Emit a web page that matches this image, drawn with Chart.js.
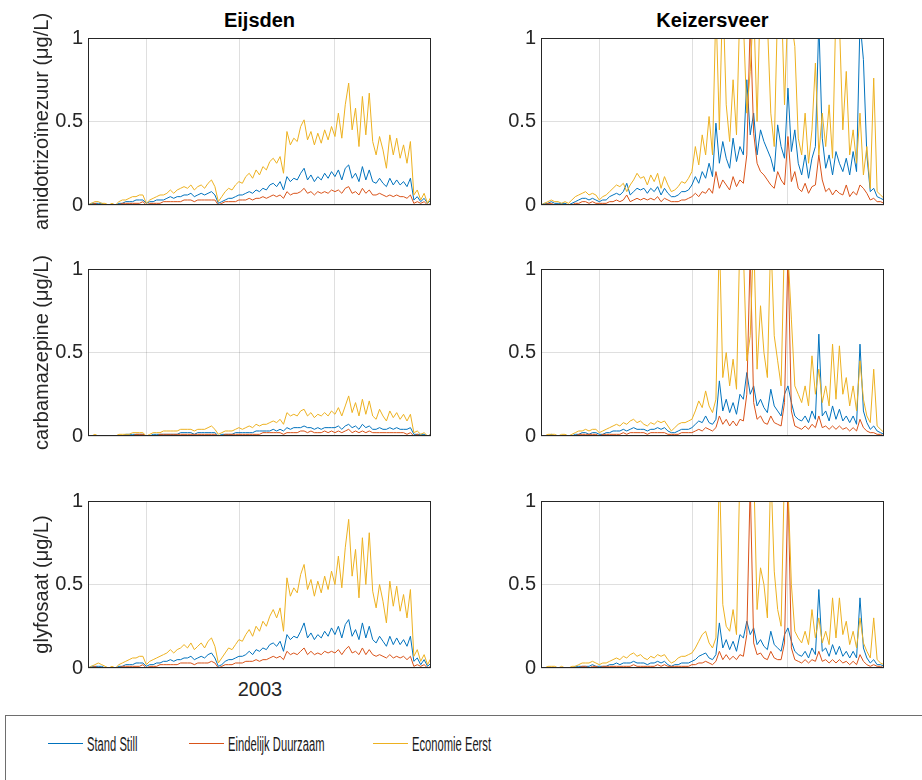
<!DOCTYPE html>
<html>
<head>
<meta charset="utf-8">
<script src="https://cdn.jsdelivr.net/npm/chart.js@4.4.0/dist/chart.umd.min.js"></script>
<style>
  body { margin: 0; width: 922px; height: 780px; background: #fff; position: relative; overflow: hidden;
         font-family: 'Liberation Sans', Arial, sans-serif; color: #262626; }
  .panel { position: absolute; }
  .ttl { position: absolute; top: 9px; width: 343px; text-align: center; font-weight: bold; font-size: 20px; color: #000; }
  .year { position: absolute; left: 220px; top: 678px; width: 80px; text-align: center; font-size: 20px; }
  .legend { position: absolute; left: 5px; top: 715px; width: 940px; height: 90px; border: 1px solid #6e6e6e; box-sizing: border-box; }
  .item { position: absolute; top: 19px; height: 20px; }
  .item span.ln { position: absolute; left: 0; top: 8px; width: 35px; height: 0; border-top: 1px solid; }
  .item span.tx { position: absolute; left: 39px; top: -3px; font-size: 20px; line-height: 24px; white-space: nowrap;
                  transform: scaleX(0.56); transform-origin: left center; color: #1a1a1a; }
</style>
</head>
<body>

<div class="ttl" style="left:88px">Eijsden</div>
<div class="ttl" style="left:541px">Keizersveer</div>
<div class="year">2003</div>

<div class="legend">
  <div class="item" style="left:42px"><span class="ln" style="border-color:#0072BD"></span><span class="tx">Stand Still</span></div>
  <div class="item" style="left:183px"><span class="ln" style="border-color:#D95319"></span><span class="tx">Eindelijk Duurzaam</span></div>
  <div class="item" style="left:367px"><span class="ln" style="border-color:#EDB120"></span><span class="tx">Economie Eerst</span></div>
</div>

<script>
/*--Data--*/
var seriesNames = ['Stand Still', 'Eindelijk Duurzaam', 'Economie Eerst'];
var seriesColors = ['#0072BD', '#D95319', '#EDB120'];
var stations = ['Eijsden', 'Keizersveer'];
var substances = ['amidotrizo\u00efnezuur (\u03bcg/L)', 'carbamazepine (\u03bcg/L)', 'glyfosaat (\u03bcg/L)'];
var yTickLabels = ['0', '0.5', '1'];
var xGrid = [17, 44.3, 72];   // sample positions of the vertical grid lines

// Eijsden - amidotrizoinezuur
var eijAmidSS = [0.00,0.01,0.01,0.01,0.01,0.00,0.00,0.00,0.00,0.01,
  0.01,0.02,0.02,0.02,0.03,0.03,0.03,0.01,0.02,0.02,
  0.03,0.03,0.03,0.04,0.05,0.04,0.05,0.05,0.06,0.06,
  0.07,0.05,0.06,0.07,0.06,0.07,0.08,0.06,0.01,0.02,
  0.03,0.04,0.04,0.05,0.06,0.06,0.07,0.08,0.07,0.09,
  0.08,0.10,0.09,0.12,0.13,0.11,0.14,0.09,0.17,0.14,
  0.16,0.15,0.19,0.22,0.15,0.18,0.14,0.17,0.15,0.19,
  0.16,0.20,0.17,0.21,0.15,0.22,0.24,0.16,0.19,0.14,
  0.23,0.15,0.21,0.14,0.13,0.16,0.13,0.11,0.16,0.12,
  0.15,0.12,0.14,0.11,0.16,0.03,0.05,0.02,0.04,0.01,0.03];
var eijAmidED = [0.00,0.00,0.01,0.00,0.00,0.00,0.00,0.00,0.00,0.00,
  0.01,0.01,0.01,0.01,0.01,0.01,0.02,0.00,0.01,0.01,
  0.01,0.01,0.02,0.02,0.02,0.02,0.02,0.02,0.03,0.03,
  0.03,0.02,0.03,0.03,0.03,0.03,0.03,0.03,0.00,0.01,
  0.02,0.02,0.02,0.02,0.03,0.03,0.03,0.04,0.03,0.04,
  0.04,0.05,0.04,0.05,0.06,0.05,0.06,0.04,0.08,0.06,
  0.07,0.07,0.08,0.10,0.07,0.08,0.06,0.08,0.07,0.08,
  0.07,0.09,0.08,0.09,0.07,0.10,0.11,0.07,0.08,0.06,
  0.10,0.07,0.09,0.06,0.06,0.07,0.06,0.05,0.06,0.05,
  0.06,0.05,0.05,0.04,0.06,0.01,0.02,0.01,0.02,0.00,0.01];
var eijAmidEE = [0.00,0.01,0.02,0.02,0.01,0.01,0.00,0.01,0.00,0.02,
  0.03,0.03,0.04,0.05,0.05,0.06,0.06,0.01,0.03,0.04,
  0.05,0.06,0.06,0.07,0.09,0.07,0.09,0.10,0.11,0.10,
  0.12,0.09,0.11,0.12,0.10,0.13,0.15,0.11,0.02,0.05,
  0.08,0.10,0.09,0.12,0.14,0.13,0.17,0.19,0.16,0.21,
  0.18,0.23,0.21,0.26,0.28,0.25,0.29,0.19,0.44,0.36,
  0.40,0.38,0.47,0.51,0.39,0.44,0.36,0.43,0.37,0.45,
  0.39,0.47,0.41,0.55,0.40,0.60,0.73,0.45,0.58,0.35,
  0.65,0.42,0.67,0.38,0.30,0.41,0.33,0.22,0.42,0.30,
  0.40,0.28,0.36,0.25,0.38,0.06,0.09,0.03,0.07,0.01,0.05];

// Eijsden - carbamazepine
var eijCarbSS = [0.00,0.00,0.00,0.00,0.00,0.00,0.00,0.00,0.00,0.00,
  0.00,0.01,0.01,0.01,0.01,0.01,0.01,0.00,0.00,0.01,
  0.01,0.01,0.01,0.01,0.01,0.01,0.01,0.02,0.02,0.02,
  0.02,0.01,0.02,0.02,0.02,0.02,0.02,0.02,0.00,0.01,
  0.01,0.01,0.01,0.02,0.02,0.02,0.02,0.02,0.02,0.03,
  0.03,0.03,0.03,0.03,0.04,0.03,0.04,0.03,0.05,0.04,
  0.05,0.05,0.05,0.06,0.05,0.05,0.04,0.05,0.04,0.05,
  0.05,0.05,0.05,0.06,0.04,0.06,0.07,0.05,0.06,0.04,
  0.07,0.05,0.06,0.04,0.04,0.05,0.04,0.04,0.05,0.04,
  0.05,0.04,0.04,0.04,0.05,0.01,0.01,0.01,0.01,0.00,0.01];
var eijCarbED = [0.00,0.00,0.00,0.00,0.00,0.00,0.00,0.00,0.00,0.00,
  0.00,0.00,0.00,0.00,0.01,0.01,0.01,0.00,0.00,0.00,
  0.00,0.01,0.01,0.01,0.01,0.01,0.01,0.01,0.01,0.01,
  0.01,0.01,0.01,0.01,0.01,0.01,0.01,0.01,0.00,0.00,
  0.01,0.01,0.01,0.01,0.01,0.01,0.01,0.01,0.01,0.01,
  0.01,0.02,0.02,0.02,0.02,0.02,0.02,0.01,0.02,0.02,
  0.02,0.02,0.03,0.03,0.02,0.03,0.02,0.02,0.02,0.03,
  0.02,0.03,0.02,0.03,0.02,0.03,0.04,0.02,0.03,0.02,
  0.03,0.02,0.03,0.02,0.02,0.02,0.02,0.02,0.02,0.02,
  0.02,0.02,0.02,0.01,0.02,0.00,0.01,0.00,0.00,0.00,0.00];
var eijCarbEE = [0.00,0.00,0.01,0.00,0.00,0.00,0.00,0.00,0.00,0.01,
  0.01,0.01,0.01,0.02,0.02,0.02,0.02,0.00,0.01,0.02,
  0.02,0.02,0.03,0.03,0.03,0.03,0.03,0.04,0.04,0.04,
  0.04,0.03,0.04,0.04,0.04,0.05,0.06,0.04,0.01,0.02,
  0.03,0.03,0.03,0.04,0.05,0.04,0.05,0.06,0.05,0.07,
  0.06,0.07,0.07,0.08,0.09,0.08,0.10,0.07,0.14,0.12,
  0.13,0.12,0.15,0.16,0.12,0.14,0.11,0.13,0.12,0.14,
  0.12,0.15,0.13,0.17,0.12,0.18,0.24,0.14,0.20,0.12,
  0.22,0.13,0.21,0.12,0.10,0.16,0.12,0.09,0.15,0.11,
  0.14,0.10,0.13,0.09,0.13,0.02,0.03,0.01,0.02,0.00,0.01];

// Eijsden - glyfosaat
var eijGlyfSS = [0.00,0.01,0.01,0.01,0.01,0.00,0.00,0.00,0.00,0.01,
  0.01,0.02,0.02,0.02,0.03,0.03,0.03,0.01,0.02,0.02,
  0.03,0.03,0.04,0.04,0.05,0.04,0.05,0.05,0.06,0.06,
  0.07,0.05,0.06,0.07,0.06,0.08,0.09,0.06,0.01,0.02,
  0.04,0.05,0.05,0.06,0.07,0.07,0.08,0.10,0.08,0.11,
  0.10,0.12,0.11,0.14,0.15,0.13,0.16,0.10,0.20,0.17,
  0.19,0.18,0.22,0.27,0.18,0.21,0.17,0.20,0.18,0.22,
  0.19,0.24,0.20,0.25,0.18,0.26,0.29,0.19,0.23,0.17,
  0.27,0.18,0.25,0.17,0.15,0.19,0.16,0.13,0.19,0.14,
  0.18,0.14,0.17,0.13,0.19,0.04,0.06,0.02,0.05,0.01,0.03];
var eijGlyfED = [0.00,0.00,0.01,0.00,0.00,0.00,0.00,0.00,0.00,0.00,
  0.01,0.01,0.01,0.01,0.01,0.01,0.02,0.00,0.01,0.01,
  0.01,0.02,0.02,0.02,0.02,0.02,0.02,0.03,0.03,0.03,
  0.03,0.02,0.03,0.03,0.03,0.03,0.04,0.03,0.00,0.01,
  0.02,0.02,0.02,0.03,0.03,0.03,0.04,0.04,0.04,0.05,
  0.04,0.05,0.05,0.06,0.07,0.06,0.07,0.05,0.10,0.08,
  0.09,0.08,0.10,0.12,0.08,0.10,0.08,0.09,0.08,0.10,
  0.09,0.10,0.09,0.11,0.08,0.11,0.13,0.09,0.10,0.08,
  0.12,0.08,0.11,0.08,0.07,0.08,0.07,0.06,0.08,0.06,
  0.07,0.06,0.07,0.05,0.07,0.01,0.02,0.01,0.02,0.00,0.01];
var eijGlyfEE = [0.00,0.01,0.02,0.03,0.02,0.01,0.00,0.01,0.00,0.02,
  0.03,0.04,0.05,0.06,0.06,0.07,0.07,0.02,0.04,0.05,
  0.06,0.07,0.08,0.09,0.11,0.09,0.11,0.12,0.14,0.12,
  0.15,0.11,0.13,0.15,0.12,0.16,0.18,0.13,0.03,0.06,
  0.09,0.12,0.11,0.14,0.17,0.16,0.20,0.23,0.19,0.25,
  0.22,0.28,0.25,0.31,0.35,0.30,0.36,0.22,0.54,0.43,
  0.48,0.45,0.56,0.62,0.47,0.53,0.43,0.52,0.45,0.55,
  0.47,0.58,0.50,0.67,0.48,0.72,0.89,0.55,0.71,0.42,
  0.78,0.50,0.81,0.46,0.36,0.50,0.40,0.27,0.52,0.37,
  0.49,0.34,0.44,0.30,0.47,0.07,0.11,0.04,0.08,0.02,0.06];

// Keizersveer - amidotrizoinezuur
var keiAmidSS = [0.00,0.01,0.01,0.02,0.01,0.01,0.01,0.01,0.00,0.01,
  0.02,0.03,0.04,0.04,0.03,0.04,0.03,0.02,0.03,0.03,
  0.05,0.06,0.07,0.06,0.08,0.13,0.06,0.08,0.10,0.09,
  0.10,0.07,0.10,0.08,0.11,0.06,0.10,0.07,0.05,0.05,
  0.06,0.08,0.08,0.09,0.12,0.17,0.13,0.20,0.16,0.25,
  0.17,0.49,0.25,0.38,0.28,0.22,0.40,0.26,0.35,0.30,
  0.75,0.42,0.55,0.30,0.45,0.38,0.33,0.28,0.20,0.48,
  0.35,0.28,0.70,0.32,0.45,0.25,0.18,0.30,0.16,0.28,
  0.35,1.10,0.40,0.22,0.30,0.18,0.32,0.25,0.20,0.28,
  0.18,0.32,0.20,1.10,0.87,0.30,0.08,0.10,0.05,0.04,0.03];
var keiAmidED = [0.00,0.00,0.01,0.01,0.00,0.00,0.00,0.00,0.00,0.00,
  0.01,0.01,0.02,0.02,0.01,0.02,0.01,0.01,0.01,0.01,
  0.02,0.02,0.03,0.02,0.03,0.06,0.02,0.03,0.04,0.03,
  0.04,0.03,0.04,0.03,0.05,0.02,0.04,0.03,0.02,0.02,
  0.02,0.03,0.03,0.04,0.05,0.07,0.05,0.08,0.07,0.10,
  0.07,0.20,0.10,0.15,0.12,0.09,0.17,0.11,0.15,0.13,
  0.30,1.10,0.43,0.25,0.20,0.18,0.15,0.12,0.10,0.20,
  0.15,0.12,0.41,0.14,0.20,0.10,0.08,0.13,0.07,0.11,
  0.12,0.30,0.15,0.08,0.10,0.06,0.09,0.07,0.06,0.12,
  0.05,0.08,0.06,0.12,0.10,0.07,0.03,0.04,0.02,0.02,0.01];
var keiAmidEE = [0.00,0.01,0.02,0.03,0.02,0.02,0.01,0.02,0.01,0.03,
  0.05,0.06,0.07,0.08,0.06,0.07,0.06,0.03,0.05,0.06,
  0.08,0.10,0.12,0.11,0.13,0.08,0.12,0.15,0.19,0.16,
  0.17,0.12,0.18,0.14,0.19,0.10,0.17,0.12,0.08,0.09,
  0.11,0.14,0.13,0.16,0.20,0.35,0.24,0.42,0.30,0.53,
  0.30,1.20,0.45,1.30,0.60,0.38,0.75,0.42,1.20,1.10,
  0.55,0.80,1.20,0.50,1.30,1.20,1.10,0.55,0.35,1.20,
  1.30,0.60,1.20,1.10,0.95,0.40,0.30,0.55,0.25,0.45,
  0.85,0.30,0.55,0.35,0.60,0.28,1.20,1.10,0.45,0.80,
  0.30,0.45,0.25,0.55,0.18,0.35,0.10,0.76,0.08,0.06,0.04];

// Keizersveer - carbamazepine
var keiCarbSS = [0.00,0.00,0.00,0.01,0.00,0.00,0.00,0.00,0.00,0.00,
  0.01,0.01,0.02,0.02,0.01,0.02,0.02,0.01,0.01,0.02,
  0.02,0.03,0.03,0.03,0.04,0.03,0.04,0.05,0.04,0.04,
  0.04,0.03,0.04,0.04,0.05,0.04,0.05,0.03,0.02,0.02,
  0.03,0.04,0.04,0.04,0.05,0.07,0.09,0.08,0.12,0.08,
  0.07,0.10,0.33,0.15,0.22,0.14,0.20,0.13,0.25,0.22,
  0.38,0.25,0.30,0.18,0.22,0.17,0.14,0.28,0.18,0.15,
  0.12,0.25,0.30,0.20,0.12,0.10,0.09,0.12,0.08,0.15,
  0.10,0.61,0.12,0.15,0.09,0.18,0.10,0.16,0.09,0.12,
  0.08,0.12,0.07,0.55,0.15,0.08,0.04,0.06,0.03,0.02,0.01];
var keiCarbED = [0.00,0.00,0.00,0.00,0.00,0.00,0.00,0.00,0.00,0.00,
  0.00,0.01,0.01,0.01,0.01,0.01,0.01,0.00,0.01,0.01,
  0.01,0.01,0.01,0.01,0.02,0.01,0.02,0.02,0.02,0.02,
  0.02,0.01,0.02,0.02,0.02,0.02,0.02,0.01,0.01,0.01,
  0.01,0.02,0.02,0.02,0.02,0.03,0.04,0.03,0.05,0.04,
  0.03,0.05,0.12,0.07,0.10,0.06,0.09,0.06,0.10,0.09,
  0.25,1.10,0.20,0.10,0.12,0.08,0.07,0.12,0.08,0.07,
  0.06,0.20,1.10,0.15,0.06,0.05,0.04,0.06,0.04,0.07,
  0.05,0.12,0.05,0.06,0.04,0.06,0.04,0.06,0.04,0.05,
  0.03,0.05,0.03,0.10,0.05,0.03,0.02,0.02,0.01,0.01,0.00];
var keiCarbEE = [0.00,0.00,0.01,0.01,0.01,0.00,0.01,0.01,0.00,0.01,
  0.02,0.03,0.03,0.04,0.03,0.04,0.04,0.02,0.03,0.04,
  0.05,0.06,0.07,0.06,0.08,0.07,0.09,0.10,0.08,0.09,
  0.07,0.06,0.08,0.07,0.09,0.08,0.09,0.06,0.03,0.05,
  0.07,0.08,0.08,0.09,0.10,0.15,0.21,0.17,0.27,0.18,
  0.14,0.22,1.20,0.35,0.50,0.30,0.46,0.28,1.20,1.10,
  0.45,0.60,1.20,0.40,0.78,0.50,0.35,1.20,0.60,0.45,
  0.30,1.20,1.10,0.70,0.30,0.25,0.20,0.30,0.18,0.48,
  0.25,0.40,0.20,0.30,0.18,0.55,0.22,0.54,0.25,0.35,
  0.18,0.30,0.15,0.45,0.22,0.12,0.08,0.40,0.06,0.04,0.02];

// Keizersveer - glyfosaat
var keiGlyfSS = [0.00,0.00,0.00,0.00,0.00,0.00,0.00,0.00,0.00,0.00,
  0.01,0.01,0.01,0.01,0.01,0.02,0.01,0.01,0.01,0.01,
  0.02,0.02,0.03,0.02,0.03,0.03,0.03,0.04,0.03,0.03,
  0.03,0.02,0.03,0.03,0.04,0.03,0.04,0.02,0.01,0.02,
  0.02,0.03,0.03,0.03,0.04,0.05,0.07,0.08,0.09,0.06,
  0.05,0.08,0.27,0.12,0.17,0.11,0.16,0.10,0.20,0.18,
  0.28,0.20,0.24,0.14,0.17,0.13,0.11,0.22,0.14,0.12,
  0.10,0.20,0.24,0.16,0.10,0.08,0.07,0.10,0.06,0.12,
  0.08,0.47,0.10,0.12,0.07,0.14,0.08,0.13,0.07,0.10,
  0.06,0.10,0.06,0.42,0.12,0.06,0.03,0.05,0.02,0.02,0.01];
var keiGlyfED = [0.00,0.00,0.00,0.00,0.00,0.00,0.00,0.00,0.00,0.00,
  0.00,0.00,0.01,0.01,0.00,0.01,0.01,0.00,0.01,0.01,
  0.01,0.01,0.01,0.01,0.01,0.01,0.01,0.02,0.01,0.01,
  0.01,0.01,0.01,0.01,0.02,0.01,0.02,0.01,0.01,0.01,
  0.01,0.01,0.01,0.01,0.02,0.02,0.03,0.03,0.04,0.03,
  0.02,0.04,0.10,0.05,0.08,0.05,0.07,0.05,0.08,0.07,
  0.20,1.10,0.15,0.08,0.09,0.06,0.05,0.10,0.06,0.05,
  0.05,0.15,1.10,0.12,0.05,0.04,0.03,0.05,0.03,0.05,
  0.04,0.10,0.04,0.05,0.03,0.05,0.03,0.05,0.03,0.04,
  0.02,0.04,0.02,0.08,0.04,0.02,0.01,0.02,0.01,0.01,0.00];
var keiGlyfEE = [0.00,0.00,0.01,0.01,0.01,0.00,0.01,0.00,0.00,0.01,
  0.01,0.02,0.03,0.03,0.03,0.04,0.03,0.02,0.03,0.03,
  0.04,0.05,0.06,0.05,0.07,0.06,0.08,0.09,0.07,0.08,
  0.06,0.05,0.07,0.06,0.08,0.07,0.08,0.05,0.03,0.04,
  0.06,0.07,0.07,0.08,0.09,0.12,0.16,0.20,0.22,0.15,
  0.12,0.18,1.20,0.38,0.25,0.22,0.35,0.20,1.20,1.10,
  1.20,1.10,1.20,0.35,0.60,0.50,0.30,1.20,0.58,0.35,
  0.25,1.20,1.10,0.50,0.22,0.18,0.15,0.22,0.14,0.35,
  0.18,0.30,0.15,0.22,0.14,0.42,0.18,0.42,0.20,0.28,
  0.14,0.22,0.12,0.30,0.15,0.10,0.06,0.30,0.05,0.03,0.02];
/*--------*/

var panelData = [
  [[eijAmidSS, eijAmidED, eijAmidEE], [keiAmidSS, keiAmidED, keiAmidEE]],
  [[eijCarbSS, eijCarbED, eijCarbEE], [keiCarbSS, keiCarbED, keiCarbEE]],
  [[eijGlyfSS, eijGlyfED, eijGlyfEE], [keiGlyfSS, keiGlyfED, keiGlyfEE]]
];

var rowTops = [38, 269, 501];
var plotH = 167;
var padV = 36;
var colLeft = [0, 460];
var colW = [460, 462];
var axisW = [88, 81];
var padRight = [29, 38];

var boxPlugin = {
  id: 'box',
  afterDraw: function(chart) {
    var a = chart.chartArea, ctx = chart.ctx;
    ctx.save();
    ctx.strokeStyle = '#262626';
    ctx.lineWidth = 1;
    ctx.strokeRect(Math.round(a.left) + 0.5, Math.round(a.top) + 0.5,
                   Math.round(a.right - a.left) - 1, Math.round(a.bottom - a.top) - 1);
    ctx.restore();
  }
};

function toPoints(arr) {
  return arr.map(function(v, i) { return {x: i, y: v}; });
}

for (var r = 0; r < 3; r++) {
  for (var c = 0; c < 2; c++) {
    var cv = document.createElement('canvas');
    cv.className = 'panel';
    cv.width = colW[c];
    cv.height = plotH + 2 * padV;
    cv.style.left = colLeft[c] + 'px';
    cv.style.top = (rowTops[r] - padV) + 'px';
    document.body.appendChild(cv);

    var sets = panelData[r][c].map(function(arr, k) {
      return {
        label: seriesNames[k],
        data: toPoints(arr),
        borderColor: seriesColors[k],
        borderWidth: 1,
        pointRadius: 0,
        tension: 0,
        order: 3 - k
      };
    });

    var yW = axisW[c];
    new Chart(cv, {
      type: 'line',
      data: { datasets: sets },
      plugins: [boxPlugin],
      options: {
        responsive: false,
        animation: false,
        layout: { padding: { left: 0, right: padRight[c], top: padV, bottom: padV } },
        plugins: { legend: { display: false }, tooltip: { enabled: false } },
        scales: {
          x: {
            type: 'linear', min: 0, max: 100,
            afterBuildTicks: function(s) { s.ticks = xGrid.map(function(v) { return {value: v}; }); },
            afterFit: function(s) { s.height = 0; },
            ticks: { display: false },
            grid: { color: 'rgba(38,38,38,0.15)', drawTicks: false },
            border: { display: false }
          },
          y: {
            min: 0, max: 1,
            afterFit: (function(w) { return function(s) { s.width = w; }; })(yW),
            ticks: {
              stepSize: 0.5, padding: 5, color: '#262626',
              font: { family: "'Liberation Sans', Arial, sans-serif", size: 20 },
              callback: function(v, i) { return yTickLabels[i]; }
            },
            grid: { color: 'rgba(38,38,38,0.15)', drawTicks: false },
            border: { display: false },
            title: {
              display: c === 0, text: substances[r], color: '#262626',
              padding: { top: 30, bottom: 0 },
              font: { family: "'Liberation Sans', Arial, sans-serif", size: 20 }
            }
          }
        }
      }
    });
  }
}
</script>
</body>
</html>
